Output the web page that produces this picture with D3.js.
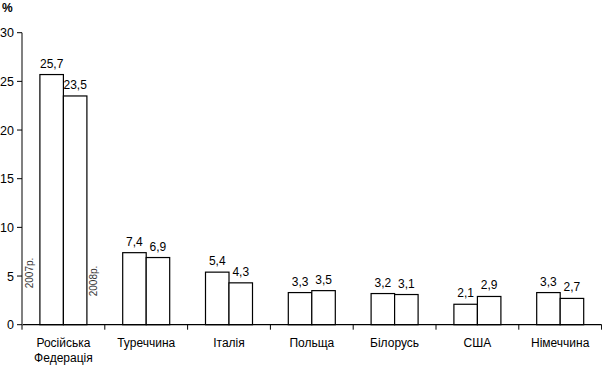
<!DOCTYPE html>
<html><head><meta charset="utf-8">
<script src="https://cdn.jsdelivr.net/npm/d3@7"></script>
<style>body{margin:0;background:#fff}svg{display:block;font-family:"Liberation Sans",Arial,sans-serif}</style>
</head><body>
<script>
const categories = [["Російська","Федерація"],["Туреччина"],["Італія"],["Польща"],["Білорусь"],["США"],["Німеччина"]];
const values2007 = [25.7, 7.4, 5.4, 3.3, 3.2, 2.1, 3.3];
const values2008 = [23.5, 6.9, 4.3, 3.5, 3.1, 2.9, 2.7];
const yTicks = [0, 5, 10, 15, 20, 25, 30];
const seriesNames = ["2007р.", "2008р."];

const W = 602, H = 382;
const svg = d3.select("body").append("svg").attr("width", W).attr("height", H);
const x0 = 22, x1 = 601.6, yTop = 32.7, yBot = 324.7;
const x = d3.scaleBand().domain(d3.range(categories.length)).range([x0, x1]);
const y = d3.scaleLinear().domain([0, 30]).range([yBot, yTop]);
const bw = 23.5;
const fmt = v => String(v.toFixed(1)).replace(".", ",");

// bars
const series = [values2007, values2008];
series.forEach((vals, s) => {
  const g = svg.append("g");
  vals.forEach((v, i) => {
    const cx = x(i) + x.bandwidth() / 2;
    const bx = cx - bw + s * bw;
    g.append("rect").attr("x", bx).attr("y", y(v)).attr("width", bw).attr("height", y(0) - y(v))
      .attr("fill", "#fff").attr("stroke", "#000").attr("stroke-width", 1.2);
    g.append("text").attr("x", bx + bw / 2).attr("y", y(v) - 7).attr("text-anchor", "middle")
      .attr("font-size", 12).attr("fill", "#000").text(fmt(v));
  });
});

// series labels (rotated)
const c0 = x(0) + x.bandwidth() / 2;
svg.append("text").attr("transform", `translate(${c0 - bw - 6.8},273) rotate(-90)`)
  .attr("text-anchor", "middle").attr("font-size", 10)
  .attr("fill", "#333").text(seriesNames[0]);
svg.append("text").attr("transform", `translate(${c0 + bw + 9.7},281) rotate(-90)`)
  .attr("text-anchor", "middle").attr("font-size", 10)
  .attr("fill", "#333").text(seriesNames[1]);

// x axis
svg.append("line").attr("x1", x0).attr("x2", x1).attr("y1", yBot).attr("y2", yBot).attr("stroke", "#000").attr("stroke-width", 1.2);
const bounds = d3.range(categories.length + 1).map(i => i < categories.length ? x(i) : x1);
bounds.forEach(b => svg.append("line").attr("x1", b).attr("x2", b).attr("y1", yBot).attr("y2", yBot + 5).attr("stroke", "#000"));
categories.forEach((lines, i) => {
  const t = svg.append("text").attr("text-anchor", "middle").attr("font-size", 12).attr("fill", "#000");
  lines.forEach((ln, k) => t.append("tspan").attr("x", x(i) + x.bandwidth() / 2).attr("y", 347 + k * 15).text(ln));
});

// y axis
svg.append("line").attr("x1", x0).attr("x2", x0).attr("y1", yTop).attr("y2", yBot).attr("stroke", "#808080").attr("stroke-width", 2);
yTicks.forEach(t => {
  svg.append("line").attr("x1", x0 - 5).attr("x2", x0).attr("y1", y(t)).attr("y2", y(t)).attr("stroke", "#000");
  svg.append("text").attr("x", 14).attr("y", y(t) + 4.5).attr("text-anchor", "end").attr("font-size", 12.5).attr("fill", "#000").text(t);
});
svg.append("text").attr("x", 2).attr("y", 12).attr("font-size", 12).attr("font-weight", "bold").text("%");
</script>
</body></html>
